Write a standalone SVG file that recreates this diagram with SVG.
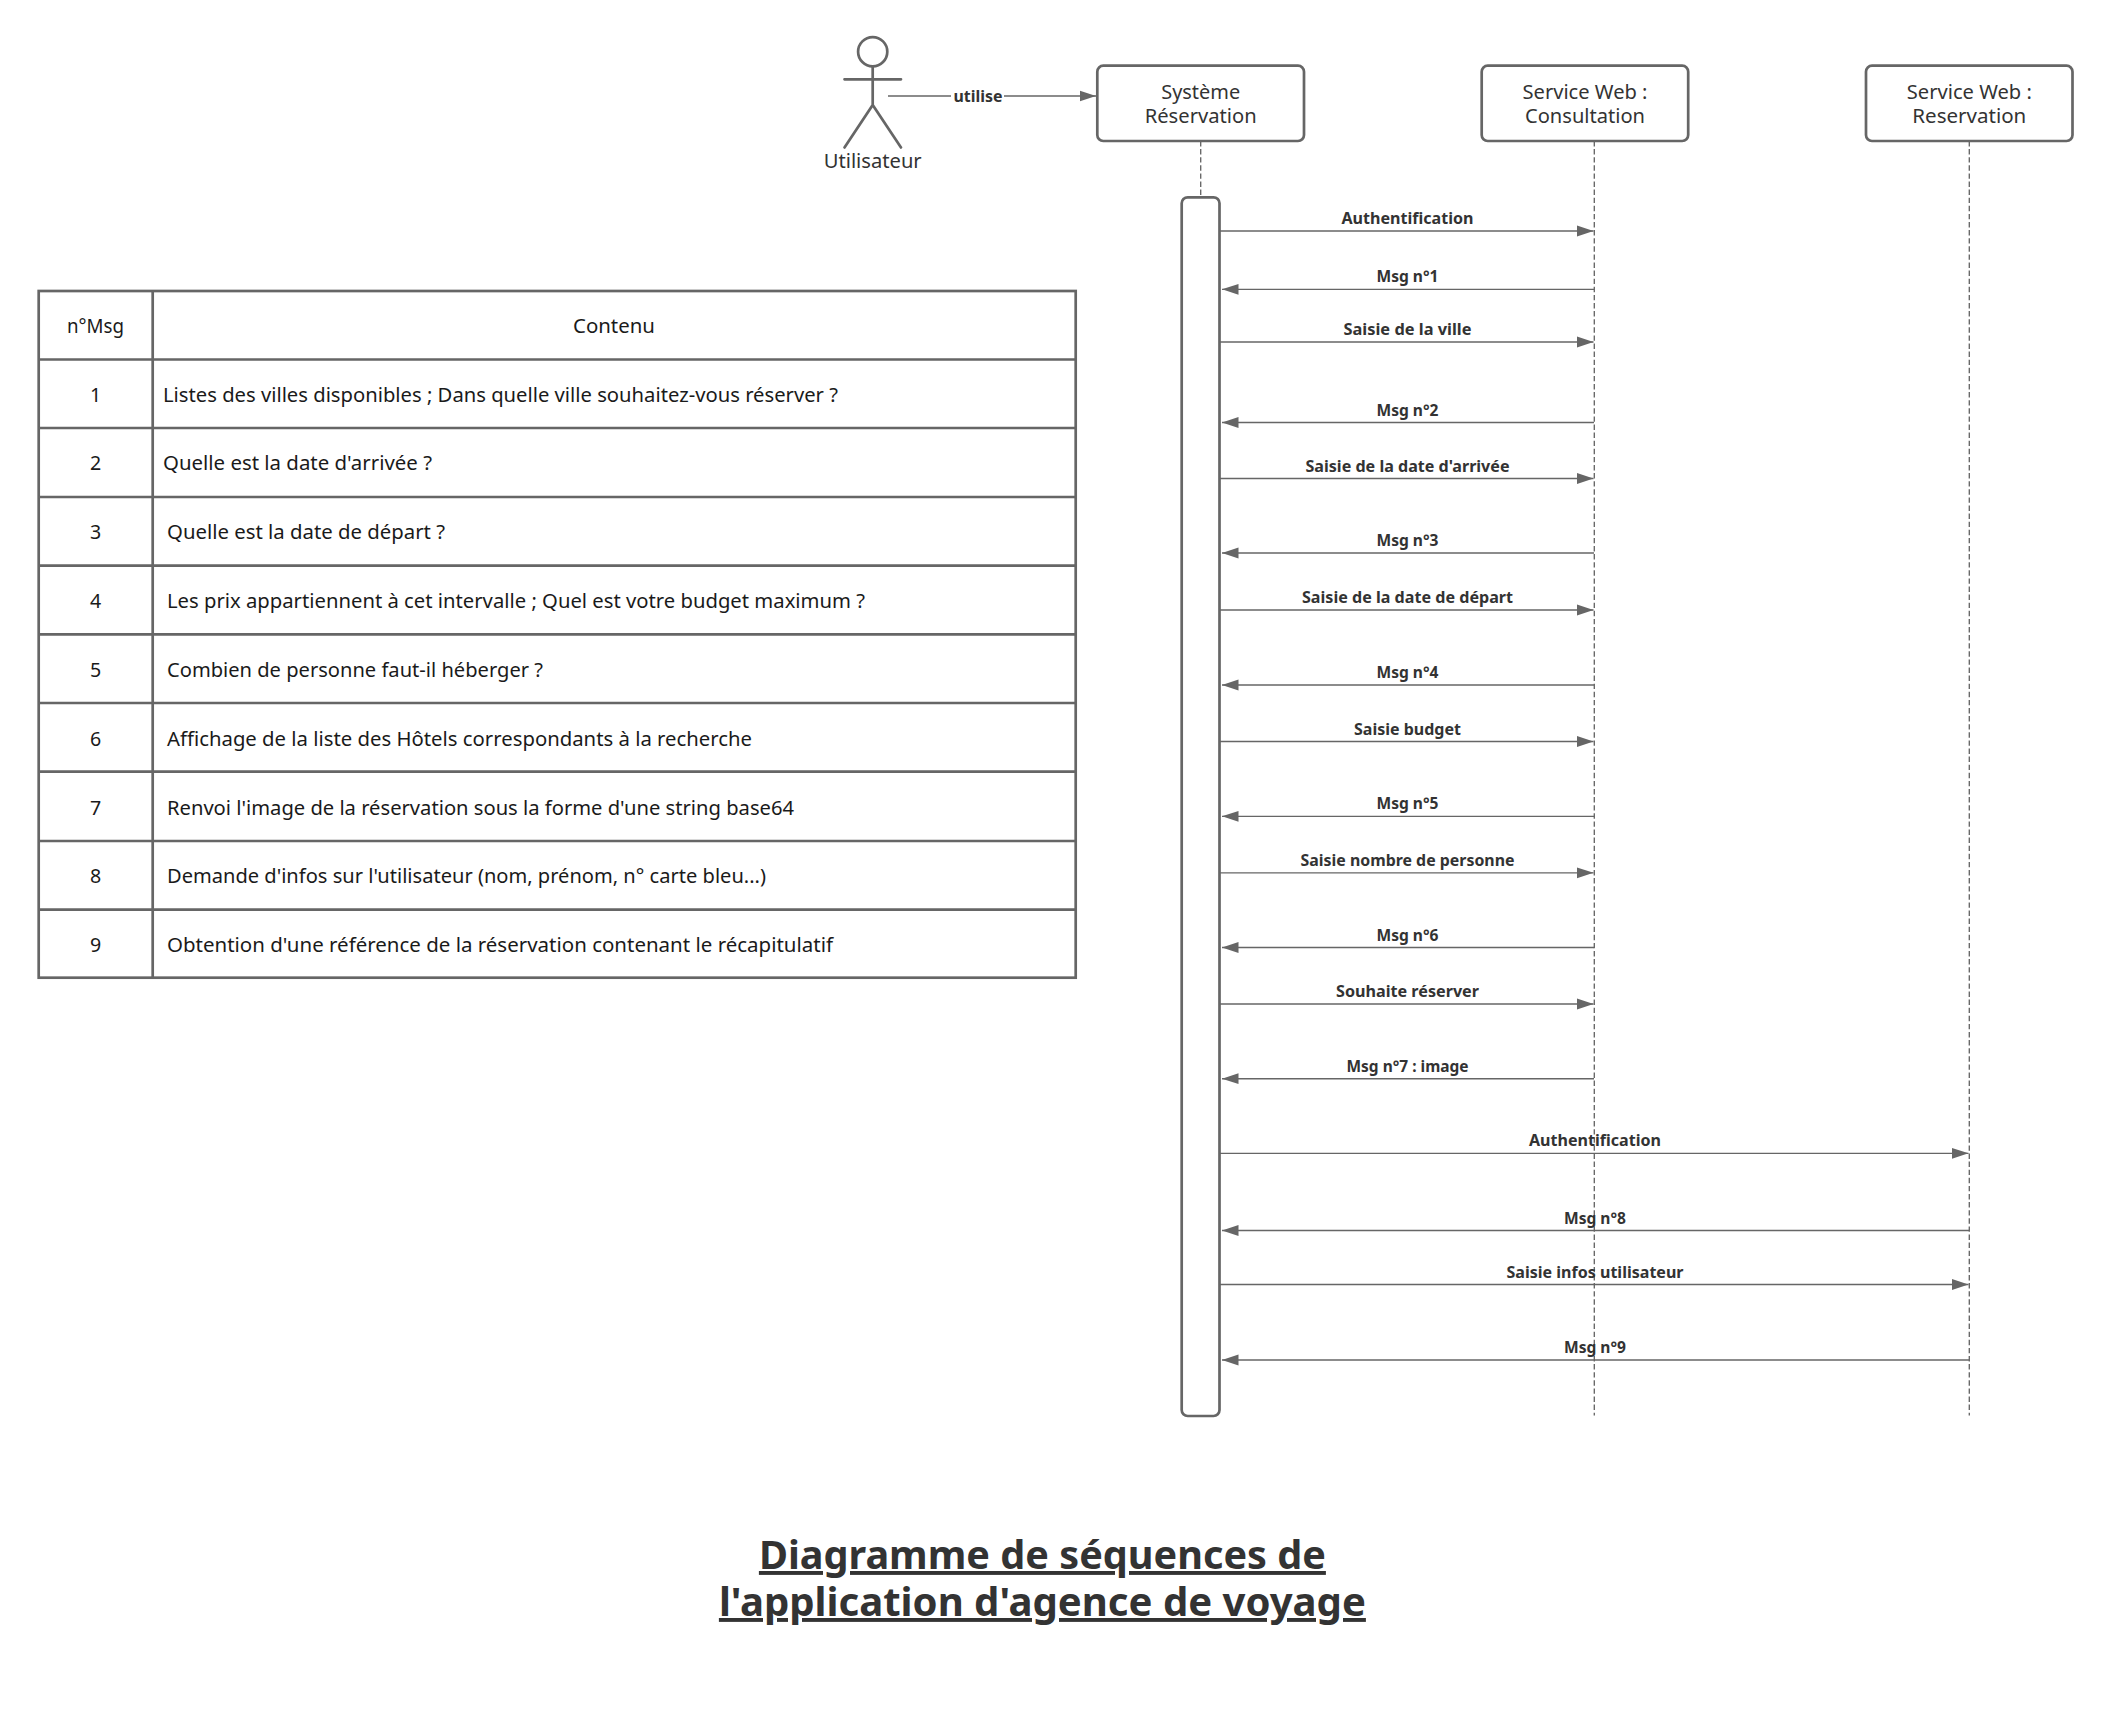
<svg xmlns="http://www.w3.org/2000/svg" width="2110" height="1734" viewBox="0 0 2110 1734">
<style>
text{font-family:"Noto Sans","Open Sans","Liberation Sans",sans-serif}
.box{fill:#fff;stroke:#666;stroke-width:2.7}
.ln{fill:none;stroke:#666;stroke-width:2.7;stroke-linecap:round}
.life{fill:none;stroke:#666;stroke-width:1.35;stroke-dasharray:5.4 2.7}
.msg{fill:none;stroke:#666;stroke-width:1.35}
.lbl{font-size:16px;font-weight:700;fill:#333;text-anchor:middle}
.nd{font-size:19.6px;fill:#333;text-anchor:middle}
.tc{font-size:19.6px;fill:#1a1a1a;text-anchor:middle}
.tl{font-size:19.6px;fill:#1a1a1a}
.title{font-size:39px;font-weight:700;fill:#333;text-anchor:middle;text-decoration:underline}
</style>
<defs>
<marker id="ah" markerUnits="userSpaceOnUse" markerWidth="17" markerHeight="12" refX="16.5" refY="6" orient="auto"><path d="M0 .6L16.5 6L0 11.4Z" fill="#666"/></marker>
</defs>
<rect width="2110" height="1734" fill="#fff"/>
<g id="connectors">
<path class="life" d="M1200.7 141V198"/>
<path class="life" d="M1594.3 141V1415.5"/>
<path class="life" d="M1969.3 141V1415.5"/>
<path class="msg" d="M888 96H1096" marker-end="url(#ah)"/>
<path class="msg" d="M1220 231H1593.5" marker-end="url(#ah)"/>
<path class="msg" d="M1594 289.3H1222" marker-end="url(#ah)"/>
<path class="msg" d="M1220 342H1593.5" marker-end="url(#ah)"/>
<path class="msg" d="M1594 422.5H1222" marker-end="url(#ah)"/>
<path class="msg" d="M1220 478.5H1593.5" marker-end="url(#ah)"/>
<path class="msg" d="M1594 553H1222" marker-end="url(#ah)"/>
<path class="msg" d="M1220 610H1593.5" marker-end="url(#ah)"/>
<path class="msg" d="M1594 685H1222" marker-end="url(#ah)"/>
<path class="msg" d="M1220 741.5H1593.5" marker-end="url(#ah)"/>
<path class="msg" d="M1594 816.3H1222" marker-end="url(#ah)"/>
<path class="msg" d="M1220 872.8H1593.5" marker-end="url(#ah)"/>
<path class="msg" d="M1594 947.5H1222" marker-end="url(#ah)"/>
<path class="msg" d="M1220 1004H1593.5" marker-end="url(#ah)"/>
<path class="msg" d="M1594 1078.7H1222" marker-end="url(#ah)"/>
<path class="msg" d="M1220 1153.3H1968.5" marker-end="url(#ah)"/>
<path class="msg" d="M1969 1230.5H1222" marker-end="url(#ah)"/>
<path class="msg" d="M1220 1284.5H1968.5" marker-end="url(#ah)"/>
<path class="msg" d="M1969 1360H1222" marker-end="url(#ah)"/>
<rect x="951" y="86" width="53" height="20" fill="#fff"/>
<text class="lbl" x="978" y="102" textLength="49" lengthAdjust="spacingAndGlyphs">utilise</text>
<text class="lbl" x="1407.5" y="224" textLength="132" lengthAdjust="spacingAndGlyphs">Authentification</text>
<text class="lbl" x="1407.5" y="282.3" textLength="62" lengthAdjust="spacingAndGlyphs">Msg n°1</text>
<text class="lbl" x="1407.5" y="335" textLength="128" lengthAdjust="spacingAndGlyphs">Saisie de la ville</text>
<text class="lbl" x="1407.5" y="415.5" textLength="62" lengthAdjust="spacingAndGlyphs">Msg n°2</text>
<text class="lbl" x="1407.5" y="471.5" textLength="204" lengthAdjust="spacingAndGlyphs">Saisie de la date d'arrivée</text>
<text class="lbl" x="1407.5" y="546" textLength="62" lengthAdjust="spacingAndGlyphs">Msg n°3</text>
<text class="lbl" x="1407.5" y="603" textLength="211" lengthAdjust="spacingAndGlyphs">Saisie de la date de départ</text>
<text class="lbl" x="1407.5" y="678" textLength="62" lengthAdjust="spacingAndGlyphs">Msg n°4</text>
<text class="lbl" x="1407.5" y="734.5" textLength="107" lengthAdjust="spacingAndGlyphs">Saisie budget</text>
<text class="lbl" x="1407.5" y="809.3" textLength="62" lengthAdjust="spacingAndGlyphs">Msg n°5</text>
<text class="lbl" x="1407.5" y="865.8" textLength="214" lengthAdjust="spacingAndGlyphs">Saisie nombre de personne</text>
<text class="lbl" x="1407.5" y="940.5" textLength="62" lengthAdjust="spacingAndGlyphs">Msg n°6</text>
<text class="lbl" x="1407.5" y="997" textLength="143" lengthAdjust="spacingAndGlyphs">Souhaite réserver</text>
<text class="lbl" x="1407.5" y="1071.7" textLength="122" lengthAdjust="spacingAndGlyphs">Msg n°7 : image</text>
<text class="lbl" x="1595" y="1146.3" textLength="132" lengthAdjust="spacingAndGlyphs">Authentification</text>
<text class="lbl" x="1595" y="1223.5" textLength="62" lengthAdjust="spacingAndGlyphs">Msg n°8</text>
<text class="lbl" x="1595" y="1277.5" textLength="177" lengthAdjust="spacingAndGlyphs">Saisie infos utilisateur</text>
<text class="lbl" x="1595" y="1352.8" textLength="62" lengthAdjust="spacingAndGlyphs">Msg n°9</text>
</g>
<g id="actor-utilisateur">
<circle cx="872.7" cy="51.7" r="14.6" class="box"/>
<path class="ln" d="M872.7 66.3V105M844.5 79.3H901M844.5 147.5L872.7 105L901 147.5"/>
<text class="nd" x="872.7" y="167.7" textLength="98" lengthAdjust="spacingAndGlyphs">Utilisateur</text>
</g>
<g id="node-systeme">
<rect class="box" x="1097.3" y="65.7" width="206.7" height="75.3" rx="6"/>
<text class="nd" x="1200.7" y="98.7" textLength="79" lengthAdjust="spacingAndGlyphs">Système</text>
<text class="nd" x="1200.7" y="122.7" textLength="112" lengthAdjust="spacingAndGlyphs">Réservation</text>
</g>
<g id="node-consultation">
<rect class="box" x="1481.7" y="65.7" width="206.5" height="75.3" rx="6"/>
<text class="nd" x="1585" y="98.7" textLength="125" lengthAdjust="spacingAndGlyphs">Service Web :</text>
<text class="nd" x="1585" y="122.7" textLength="120" lengthAdjust="spacingAndGlyphs">Consultation</text>
</g>
<g id="node-reservation">
<rect class="box" x="1866" y="65.7" width="206.5" height="75.3" rx="6"/>
<text class="nd" x="1969.3" y="98.7" textLength="125" lengthAdjust="spacingAndGlyphs">Service Web :</text>
<text class="nd" x="1969.3" y="122.7" textLength="114" lengthAdjust="spacingAndGlyphs">Reservation</text>
</g>
<g id="activation">
<rect class="box" x="1181.7" y="197.3" width="37.8" height="218.7" rx="6" style="display:none"/>
<rect class="box" x="1181.7" y="197.3" width="37.8" height="1218.7" rx="6"/>
</g>
<g id="table">
<rect x="38.7" y="291" width="1037" height="686.7" fill="#fff" stroke="#666" stroke-width="2.7"/>
<path fill="none" stroke="#666" stroke-width="2.7" d="M152.7 291V977.7M38.7 359.5H1075.7M38.7 428H1075.7M38.7 497H1075.7M38.7 565.7H1075.7M38.7 634.3H1075.7M38.7 703H1075.7M38.7 771.7H1075.7M38.7 841H1075.7M38.7 909.7H1075.7"/>
<text class="tc" x="95.5" y="333.3" textLength="57" lengthAdjust="spacingAndGlyphs">n°Msg</text>
<text class="tc" x="614" y="333.3" textLength="82" lengthAdjust="spacingAndGlyphs">Contenu</text>
<text class="tc" x="95.5" y="401.7">1</text>
<text class="tc" x="95.5" y="470">2</text>
<text class="tc" x="95.5" y="539">3</text>
<text class="tc" x="95.5" y="608">4</text>
<text class="tc" x="95.5" y="677">5</text>
<text class="tc" x="95.5" y="745.5">6</text>
<text class="tc" x="95.5" y="814.5">7</text>
<text class="tc" x="95.5" y="882.5">8</text>
<text class="tc" x="95.5" y="952">9</text>
<text class="tl" x="163" y="401.7" textLength="675" lengthAdjust="spacingAndGlyphs">Listes des villes disponibles ; Dans quelle ville souhaitez-vous réserver ?</text>
<text class="tl" x="163" y="470" textLength="269" lengthAdjust="spacingAndGlyphs">Quelle est la date d'arrivée ?</text>
<text class="tl" x="167" y="539" textLength="278" lengthAdjust="spacingAndGlyphs">Quelle est la date de départ ?</text>
<text class="tl" x="167" y="608" textLength="698" lengthAdjust="spacingAndGlyphs">Les prix appartiennent à cet intervalle ; Quel est votre budget maximum ?</text>
<text class="tl" x="167" y="677" textLength="376" lengthAdjust="spacingAndGlyphs">Combien de personne faut-il héberger ?</text>
<text class="tl" x="167" y="745.5" textLength="585" lengthAdjust="spacingAndGlyphs">Affichage de la liste des Hôtels correspondants à la recherche</text>
<text class="tl" x="167" y="814.5" textLength="627" lengthAdjust="spacingAndGlyphs">Renvoi l'image de la réservation sous la forme d'une string base64</text>
<text class="tl" x="167" y="882.5" textLength="599" lengthAdjust="spacingAndGlyphs">Demande d'infos sur l'utilisateur (nom, prénom, n° carte bleu...)</text>
<text class="tl" x="167" y="952" textLength="666" lengthAdjust="spacingAndGlyphs">Obtention d'une référence de la réservation contenant le récapitulatif</text>
</g>
<g id="title">
<text class="title" x="1042.4" y="1569" textLength="567" lengthAdjust="spacingAndGlyphs">Diagramme de séquences de</text>
<text class="title" x="1042.4" y="1616" textLength="647" lengthAdjust="spacingAndGlyphs">l'application d'agence de voyage</text>
</g>
</svg>
